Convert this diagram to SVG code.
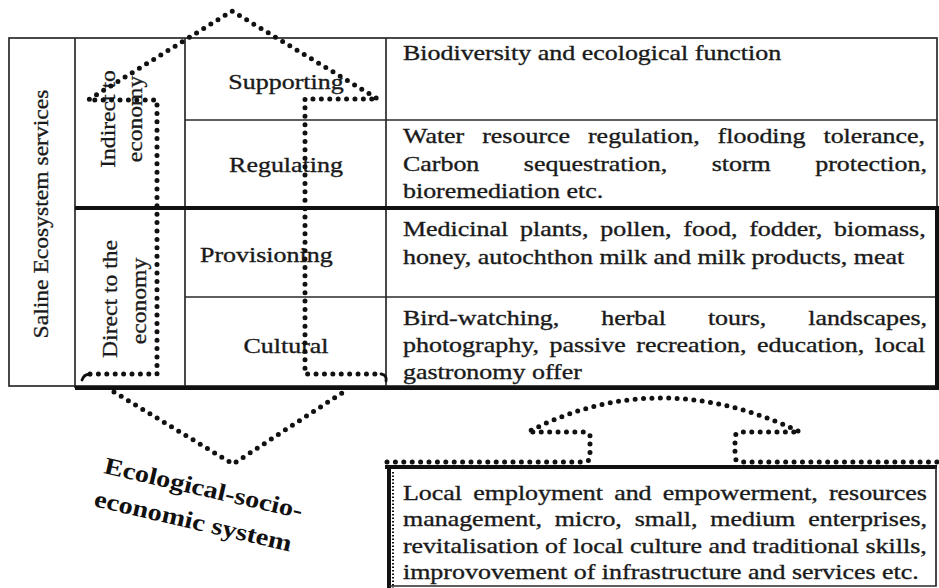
<svg xmlns="http://www.w3.org/2000/svg" width="939" height="588" viewBox="0 0 939 588">
<defs>
<style>
.ln{stroke:#2a2a2a;stroke-width:1.7;fill:none}
.thk{stroke:#111;stroke-width:4;fill:none}
.dot{stroke:#111;stroke-width:5;fill:none;stroke-linecap:round;stroke-linejoin:round;stroke-dasharray:0 8.4}
.sq{stroke:#111;stroke-width:2.8;fill:none;stroke-linecap:round}
.t{font-family:"Liberation Serif","Times New Roman",serif;font-size:22px;fill:#1a1a1a;stroke:#1a1a1a;stroke-width:0.35}
.v{font-family:"Liberation Serif","Times New Roman",serif;font-size:20px;fill:#1a1a1a;stroke:#1a1a1a;stroke-width:0.3;text-anchor:middle}
.b{font-family:"Liberation Serif","Times New Roman",serif;font-size:24px;font-weight:bold;fill:#111}
</style>
</defs>
<rect width="939" height="588" fill="#ffffff"/>

<g id="table">
<rect class="ln" x="9" y="38" width="928" height="348"/>
<line class="ln" x1="75" y1="38" x2="75" y2="388"/>
<line class="ln" x1="185" y1="38" x2="185" y2="388"/>
<line class="ln" x1="386" y1="38" x2="386" y2="388"/>
<line class="ln" x1="185" y1="120" x2="937" y2="120"/>
<line class="ln" x1="185" y1="297" x2="937" y2="297"/>
<path class="thk" d="M75,208 H937 V388 H75"/>
</g>

<g id="saline-label">
<text class="v" transform="translate(48,214) rotate(-90) scale(1.18 1)">Saline Ecosystem services</text>
</g>
<g id="indirect-label">
<text class="v" transform="translate(115,119) rotate(-90) scale(1.18 1)">Indirect to</text>
<text class="v" transform="translate(142,119) rotate(-90) scale(1.18 1)">economy</text>
</g>
<g id="direct-label">
<text class="v" transform="translate(117,299) rotate(-90) scale(1.18 1)">Direct to the</text>
<text class="v" transform="translate(146,301) rotate(-90) scale(1.18 1)">economy</text>
</g>

<g transform="scale(1.18 1)">
<g id="supporting">
<text class="t" x="242.4" y="89" text-anchor="middle">Supporting</text>
<text class="t" x="341.5" y="60">Biodiversity and ecological function</text>
</g>
<g id="regulating">
<text class="t" x="242.4" y="172" text-anchor="middle">Regulating</text>
<text class="t" x="341.5" y="143" style="word-spacing:9.7px">Water resource regulation, flooding tolerance,</text>
<text class="t" x="341.5" y="171" style="word-spacing:32.2px">Carbon sequestration, storm protection,</text>
<text class="t" x="341.5" y="198">bioremediation etc.</text>
</g>
<g id="provisioning">
<text class="t" x="169.5" y="262">Provisioning</text>
<text class="t" x="341.5" y="236" style="word-spacing:4.5px">Medicinal plants, pollen, food, fodder, biomass,</text>
<text class="t" x="341.5" y="264">honey, autochthon milk and milk products, meat</text>
</g>
<g id="cultural">
<text class="t" x="242.4" y="353" text-anchor="middle">Cultural</text>
<text class="t" x="341.5" y="325" style="word-spacing:30px">Bird-watching, herbal tours, landscapes,</text>
<text class="t" x="341.5" y="352" style="word-spacing:3.4px">photography, passive recreation, education, local</text>
<text class="t" x="341.5" y="379">gastronomy offer</text>
</g>
<g id="local-box-text">
<text class="t" x="341.5" y="500" style="word-spacing:4px">Local employment and empowerment, resources</text>
<text class="t" x="341.5" y="526" style="word-spacing:5.4px">management, micro, small, medium enterprises,</text>
<text class="t" x="341.5" y="553">revitalisation of local culture and traditional skills,</text>
<text class="t" x="341.5" y="579">improvovement of infrastructure and services etc.</text>
</g>
</g>

<g id="local-box">
<path class="thk" d="M385,467 H937"/>
<path class="thk" d="M389,465 V588"/>
<path class="ln" d="M936,467 V586 H389"/>
<path d="M393,472 V588" stroke="#111" stroke-width="2" stroke-dasharray="1.5 2" fill="none"/>
</g>

<g id="ecological-label">
<text class="b" transform="translate(103,473) rotate(13) scale(1.18 1)">Ecological-socio-</text>
<text class="b" transform="translate(93,506) rotate(13) scale(1.18 1)">economic system</text>
</g>

<g id="connectors">
<path class="dot" d="M90,374 H157 V100 H88 L232,11 L378,99 H305 V374 H381"/>
<path class="sq" d="M82,380 q3,-7 8,-5"/>
<path class="sq" d="M381,374 q6,1 5,7"/>
<path class="dot" d="M114,392 L233,464 L345,391"/>
<path class="dot" d="M387,462 H584 Q590,462 590,456 V436 Q590,432 584,432 H528 Q658,364 800,432 H741 Q735,432 735,438 V456 Q735,462 741,462 H937"/>
</g>
</svg>
